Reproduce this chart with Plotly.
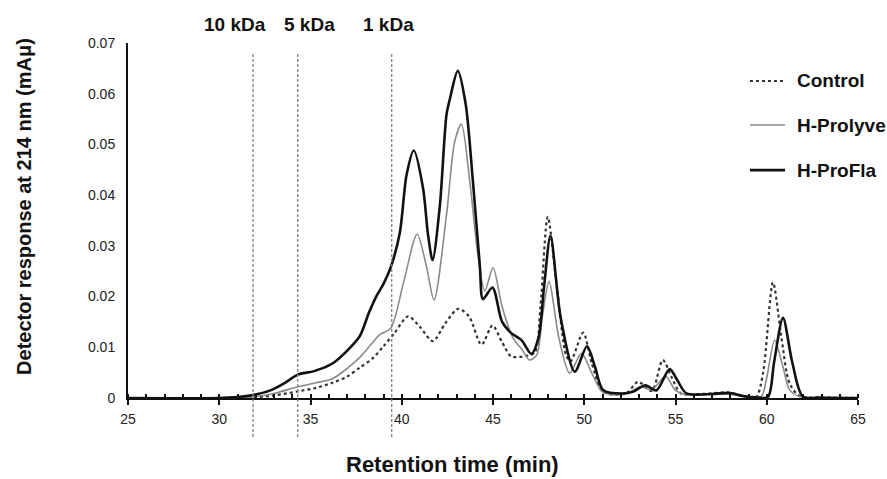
import plotly.graph_objects as go

# ---------------- data ----------------
control_x = [25, 30, 31.8, 33, 34.3, 35.3, 36.2, 37.0, 37.7, 38.4, 39.0, 39.6, 40.35, 41.0, 41.7,
             42.4, 43.1, 43.7, 44.37, 44.97, 45.5, 46.0, 46.8, 47.3, 47.6, 48.0, 48.5, 49.0, 49.25,
             49.94, 50.4, 51.0, 51.8, 52.4, 52.95, 53.7, 54.3, 54.8, 55.3, 56.5, 57.8, 58.6, 59.4,
             59.8, 60.34, 60.8, 61.25, 61.8, 63, 65]
control_y = [0, 0, 0.0001, 0.0005, 0.0013, 0.002, 0.003, 0.0042, 0.006, 0.0078, 0.0102, 0.0128, 0.0161,
             0.0140, 0.0112, 0.0148, 0.0176, 0.0160, 0.0105, 0.0143, 0.0110, 0.0082, 0.0083, 0.0090,
             0.018, 0.0357, 0.022, 0.0085, 0.0072, 0.0129, 0.007, 0.0013, 0.0006, 0.0012, 0.0032,
             0.0014, 0.0075, 0.004, 0.0009, 0.0008, 0.0011, 0.0005, 0.0001, 0.005, 0.0228, 0.012,
             0.0029, 0.0004, 0.0001, 0]

prolyve_x = [25, 30, 31.8, 33, 34.3, 35.3, 36.2, 37.0, 37.7, 38.3, 38.8, 39.4, 40.1, 40.84, 41.35,
             41.77, 42.45, 42.9, 43.27, 43.73, 44.18, 44.55, 45.0, 45.5, 46.1, 46.6, 47.0, 47.4, 47.7,
             48.07, 48.6, 49.2, 49.85, 50.4, 51.0, 52.0, 52.5, 53.05, 53.7, 54.45, 55.0, 55.5, 57.8,
             59.0, 59.7, 60.0, 60.43, 60.9, 61.25, 61.8, 65]
prolyve_y = [0, 0, 0.0002, 0.0009, 0.0022, 0.003, 0.0038, 0.0058, 0.008, 0.0105, 0.0125, 0.0138, 0.0228,
             0.0323, 0.026, 0.0193, 0.036, 0.0505, 0.054, 0.0426, 0.028, 0.0211, 0.0257, 0.018,
             0.0118, 0.0095, 0.0075, 0.0085, 0.016, 0.0230, 0.012, 0.0049, 0.0088, 0.005, 0.0012,
             0.0006, 0.0011, 0.0022, 0.0016, 0.0043, 0.0015, 0.0007, 0.0008, 0.0002, 0.0003, 0.004,
             0.0114, 0.006, 0.0016, 0.0003, 0]

profla_x = [25, 30, 31.0, 31.85, 32.8, 33.6, 34.3, 35.2, 36.2, 37.0, 37.7, 38.2, 38.6, 39.0, 39.4,
            39.9, 40.26, 40.66, 41.17, 41.44, 41.69, 42.09, 42.45, 42.64, 43.07, 43.5, 43.9, 44.28,
            44.45, 44.97, 45.5, 46.0, 46.56, 47.1, 47.5, 47.8, 48.15, 48.7, 49.48, 50.15, 50.6, 51.03,
            52.1, 52.7, 53.35, 53.95, 54.68, 55.1, 55.6, 57.0, 58.0, 58.7, 59.5, 60.07, 60.4, 60.89,
            61.4, 61.98, 63, 65]
profla_y = [0, 0, 0.0002, 0.0006, 0.0015, 0.003, 0.0046, 0.0053, 0.0068, 0.0093, 0.0122, 0.0168,
            0.0200, 0.0225, 0.0258, 0.0327, 0.0439, 0.0488, 0.0413, 0.0322, 0.0272, 0.038, 0.0558,
            0.059, 0.0645, 0.058, 0.0427, 0.026, 0.0195, 0.0218, 0.015, 0.0128, 0.0114, 0.0087, 0.012,
            0.022, 0.0320, 0.016, 0.0052, 0.0102, 0.006, 0.0016, 0.0009, 0.0013, 0.0025, 0.0015,
            0.0057, 0.0035, 0.0009, 0.0008, 0.0010, 0.0004, 0.0001, 0.0002, 0.007, 0.0158, 0.007,
            0.0003, 0.0001, 0]

series_names = ["Control", "H-Prolyve", "H-ProFla"]

marker_x = [31.85, 34.3, 39.45]
marker_labels = ["10 kDa", "5 kDa", "1 kDa"]
marker_label_x = [30.85, 34.95, 39.3]

x_ticks = [25, 30, 35, 40, 45, 50, 55, 60, 65]
y_ticks = [0, 0.01, 0.02, 0.03, 0.04, 0.05, 0.06, 0.07]
y_ticktext = ["0", "0.01", "0.02", "0.03", "0.04", "0.05", "0.06", "0.07"]

FONT = "Liberation Sans, Arial, sans-serif"

line_styles = [
    dict(color="#333333", width=2.2, dash="dot"),
    dict(color="#8a8a8a", width=1.6, dash="solid"),
    dict(color="#111111", width=2.6, dash="solid"),
]

# ---------------- figure ----------------
fig = go.Figure()
for xs, ys, nm, st in zip([control_x, prolyve_x, profla_x], [control_y, prolyve_y, profla_y],
                          series_names, line_styles):
    fig.add_trace(go.Scatter(x=xs, y=ys, mode="lines", name=nm, showlegend=False,
                             line=dict(shape="spline", smoothing=0.8, **st)))

# molecular-weight markers
for mx in marker_x:
    fig.add_shape(type="line", xref="x", yref="paper", x0=mx, x1=mx, y0=-0.11, y1=0.972,
                  line=dict(color="#808080", width=1.3, dash="3px,2px"))
for lx, lt in zip(marker_label_x, marker_labels):
    fig.add_annotation(x=lx, y=1.051, xref="x", yref="paper", text="<b>" + lt + "</b>",
                       showarrow=False, xanchor="center", yanchor="middle",
                       font=dict(family=FONT, size=19, color="#111"))

# legend (drawn as keys + labels)
legend_y = [0.893, 0.769, 0.642]
for nm, st, ly in zip(series_names, line_styles, legend_y):
    fig.add_shape(type="line", xref="paper", yref="paper", x0=0.852, x1=0.900, y0=ly, y1=ly,
                  line=st)
    fig.add_annotation(x=0.9137, y=ly, xref="paper", yref="paper", text="<b>" + nm + "</b>",
                       showarrow=False, xanchor="left", yanchor="middle",
                       font=dict(family=FONT, size=19, color="#111"))

# axis titles
fig.add_annotation(x=0.445, y=-0.2282, xref="paper", yref="paper", text="<b>Retention time (min)</b>",
                   showarrow=False, xanchor="center", yanchor="bottom",
                   font=dict(family=FONT, size=22, color="#111"))
fig.add_annotation(x=-0.1425, y=0.541, xref="paper", yref="paper",
                   text="<b>Detector response at 214 nm (mAμ)</b>", textangle=-90,
                   showarrow=False, xanchor="center", yanchor="middle",
                   font=dict(family=FONT, size=20, color="#111"))

fig.update_layout(
    width=887, height=479,
    margin=dict(l=128, r=29, t=43, b=81),
    paper_bgcolor="white", plot_bgcolor="white",
    font=dict(family=FONT, color="#222"),
    showlegend=False,
    xaxis=dict(range=[25, 65], tickvals=x_ticks, showgrid=False, zeroline=False,
               showline=True, linecolor="#111", linewidth=2,
               ticks="outside", ticklen=5, tickwidth=2, tickcolor="#111",
               minor=dict(dtick=1, ticks="inside", ticklen=4, tickwidth=1.5, tickcolor="#111"),
               tickfont=dict(size=14, color="#222"), ticklabelstandoff=2),
    yaxis=dict(range=[0, 0.07], tickvals=y_ticks, ticktext=y_ticktext, showgrid=False,
               zeroline=False, showline=True, linecolor="#111", linewidth=2, ticks="",
               tickfont=dict(size=14, color="#222"), ticklabelstandoff=8),
)

fig.write_html("out.html", config={"displayModeBar": False},
               post_script="document.body.style.margin='0';")
